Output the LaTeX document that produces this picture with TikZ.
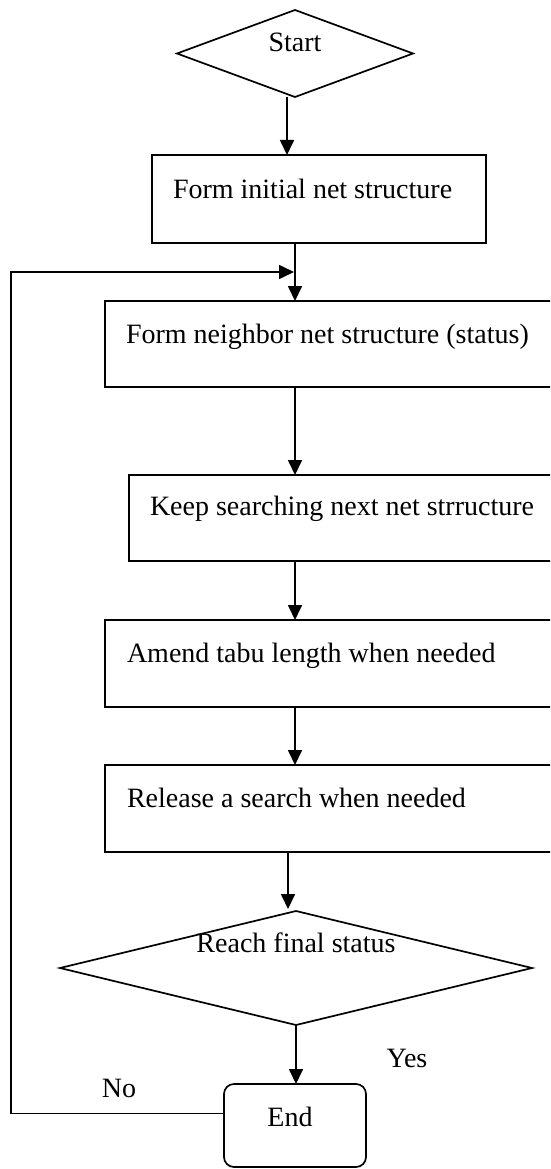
\documentclass[tikz,border=0pt]{standalone}
\usepackage{fontspec}
\setmainfont{Liberation Serif}
\usetikzlibrary{arrows.meta,shapes.geometric}
\begin{document}
\begin{tikzpicture}[x=1pt,y=-1pt,
  line width=1.7pt,
  txt/.style={font=\fontsize{28}{33}\selectfont, inner sep=0pt, outer sep=0pt},
  boxn/.style={draw, rectangle, inner sep=0pt, outer sep=0pt},
  dia/.style={draw, diamond, inner sep=0pt, outer sep=0pt},
  endbox/.style={draw, rectangle, rounded corners=10pt, inner sep=0pt, outer sep=0pt},
  arr/.style={-{Triangle[length=15pt,width=14pt]}}]
\useasboundingbox (0,0) rectangle (550,1169);
\clip (0,0) rectangle (550,1169);
% shapes
\node[dia, minimum width=236pt, minimum height=87pt] (start) at (295,53.5) {};
\node[txt, anchor=base] (starttxt) at (295,52) {Start};

\node[boxn, minimum width=334pt, minimum height=88pt] (box1) at (319,199) {};
\node[txt, anchor=base west] (t1) at (173,198) {Form initial net structure};

\node[boxn, minimum width=451pt, minimum height=86pt] (box2) at (330.5,344) {};
\node[txt, anchor=base west] (t2) at (126,343) {Form neighbor net structure (status)};

\node[boxn, minimum width=427pt, minimum height=86pt] (box3) at (342.5,518) {};
\node[txt, anchor=base west] (t3) at (150,515) {Keep searching next net strructure};

\node[boxn, minimum width=451pt, minimum height=87pt] (box4) at (330.5,663.5) {};
\node[txt, anchor=base west] (t4) at (127,662) {Amend tabu length when needed};

\node[boxn, minimum width=451pt, minimum height=87pt] (box5) at (330.5,808.5) {};
\node[txt, anchor=base west] (t5) at (127,807) {Release a search when needed};

\node[dia, minimum width=472pt, minimum height=114pt] (dia2) at (296,968) {};
\node[txt, anchor=base] (t6) at (296,952) {Reach final status};

\node[endbox, minimum width=142pt, minimum height=83pt] (endn) at (295,1125.5) {};
\node[txt, anchor=base] (t7) at (290,1126) {End};

\node[txt, anchor=base] (yes) at (407,1067) {Yes};
\node[txt, anchor=base] (no) at (119,1097) {No};

% helper coordinates
\coordinate (xc) at (295,0);
\coordinate (xl) at (288,0);
\coordinate (xe) at (296,0);
\coordinate (lc2) at (11,272);
\coordinate (lin) at (294,272);

% connectors
\draw[arr] ([xshift=-8pt]start.south) -- ([xshift=-8pt]start.south |- box1.north);
\draw[arr] (box1.south -| xc) -- (box2.north -| xc);
\draw[arr] (box2.south -| xc) -- (box3.north -| xc);
\draw[arr] (box3.south -| xc) -- (box4.north -| xc);
\draw[arr] (box4.south -| xc) -- (box5.north -| xc);
\draw[arr] (box5.south -| xl) -- ([yshift=2pt]dia2.north -| xl);
\draw[arr] (dia2.south -| xe) -- (endn.north -| xe);
\draw[arr] ([yshift=12pt]endn.west) -| (lc2) -- (lin);
\end{tikzpicture}
\end{document}
